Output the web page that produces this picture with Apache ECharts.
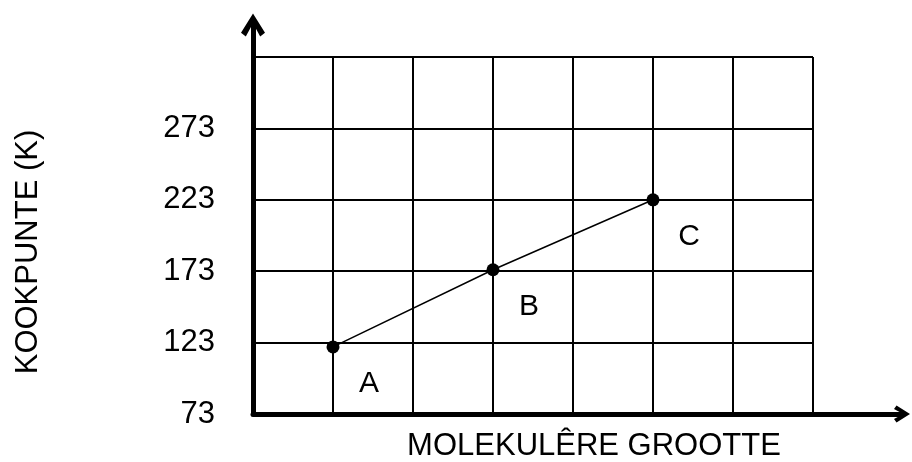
<!DOCTYPE html>
<html>
<head>
<meta charset="utf-8">
<script src="https://cdn.jsdelivr.net/npm/echarts@6/dist/echarts.min.js"></script>
<style>
  html, body { margin: 0; padding: 0; background: #fff; }
  #chart { width: 912px; height: 462px; }
</style>
</head>
<body>
<div id="chart"></div>
<script>
// punte op die grafiek (x = kolom, y = kookpunt in K)
const pointNames = ['A', 'B', 'C']
const pointX = [1, 3, 5]
const pointY = [120, 174, 223]
// y-as merkers
const yTicks = [73, 123, 173, 223, 273]

const FONT = '"Liberation Sans", Arial, sans-serif'
const chevron = 'path://M10,0 L20,16 L16,19 L10,8 L4,19 L0,16 Z'

const chart = echarts.init(document.getElementById('chart'))

chart.setOption({
  animation: false,
  backgroundColor: '#fff',
  grid: [
    // rooster
    { left: 253, right: 99, top: 57, bottom: 48 },
    // asse met pyle
    { left: 253, right: 10, top: 25, bottom: 48 },
  ],
  xAxis: [
    {
      gridIndex: 0,
      type: 'value',
      min: 0,
      max: 7,
      interval: 1,
      axisLine: { show: false },
      axisTick: { show: false },
      axisLabel: { show: false },
      splitLine: { show: true, lineStyle: { color: '#000', width: 2 } },
    },
    {
      gridIndex: 1,
      type: 'value',
      min: 0,
      max: 1,
      axisLine: {
        show: true,
        onZero: false,
        symbol: ['none', chevron],
        symbolSize: [24, 16],
        lineStyle: { color: '#000', width: 5 },
      },
      axisTick: { show: false },
      axisLabel: { show: false },
      splitLine: { show: false },
    },
  ],
  yAxis: [
    {
      gridIndex: 0,
      type: 'value',
      min: 73,
      max: 323,
      interval: 50,
      axisLine: { show: false },
      axisTick: { show: false },
      axisLabel: {
        color: '#000',
        fontSize: 31,
        fontFamily: FONT,
        margin: 38,
        formatter: v => (yTicks.includes(v) ? String(v) : ''),
      },
      splitLine: { show: true, lineStyle: { color: '#000', width: 2 } },
    },
    {
      gridIndex: 1,
      type: 'value',
      min: 0,
      max: 1,
      axisLine: {
        show: true,
        onZero: false,
        symbol: ['none', chevron],
        symbolSize: [24, 24],
        lineStyle: { color: '#000', width: 5 },
      },
      axisTick: { show: false },
      axisLabel: { show: false },
      splitLine: { show: false },
    },
  ],
  series: [
    {
      type: 'line',
      xAxisIndex: 0,
      yAxisIndex: 0,
      data: pointX.map((x, i) => ({ value: [x, pointY[i]], name: pointNames[i] })),
      symbol: 'circle',
      symbolSize: 13,
      itemStyle: { color: '#000' },
      lineStyle: { color: '#000', width: 1.5 },
      label: {
        show: true,
        position: 'inside',
        offset: [36, 37],
        formatter: p => p.name,
        color: '#000',
        fontSize: 30,
        fontFamily: FONT,
      },
      z: 5,
    },
  ],
  graphic: [
    {
      type: 'text',
      x: 28,
      y: 252,
      rotation: Math.PI / 2,
      style: {
        text: 'KOOKPUNTE (K)',
        fill: '#000',
        font: '31px ' + FONT,
        textAlign: 'center',
        textVerticalAlign: 'middle',
      },
    },
    {
      type: 'text',
      x: 594,
      y: 446,
      style: {
        text: 'MOLEKULÊRE GROOTTE',
        fill: '#000',
        font: '31px ' + FONT,
        textAlign: 'center',
        textVerticalAlign: 'middle',
      },
    },
  ],
})
</script>
</body>
</html>
